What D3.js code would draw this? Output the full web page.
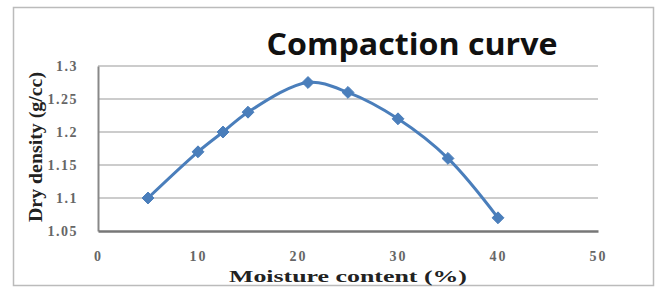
<!DOCTYPE html>
<html><head><meta charset="utf-8">
<script src="https://cdnjs.cloudflare.com/ajax/libs/d3/7.8.5/d3.min.js"></script>
<style>body{margin:0;background:#fff}</style></head>
<body><svg id="c" width="658" height="287"></svg>
<script>
const moisture = [5, 10, 12.5, 15, 21, 25, 30, 35, 40];
const density = [1.1, 1.17, 1.2, 1.23, 1.275, 1.26, 1.22, 1.16, 1.07];
const xTicks = [0, 10, 20, 30, 40, 50];
const yTicks = [1.05, 1.1, 1.15, 1.2, 1.25, 1.3];
const title = "Compaction curve";
const xTitle = "Moisture content (%)";
const yTitle = "Dry density (g/cc)";

const svg = d3.select("#c");
svg.append("rect").attr("x",13.5).attr("y",7.5).attr("width",640).attr("height",278)
  .attr("fill","#fff").attr("stroke","#bbb").attr("stroke-width",1.5);

const x = d3.scaleLinear().domain([0,50]).range([98,598]);
const y = d3.scaleLinear().domain([1.05,1.3]).range([231,66]);

// gridlines
svg.append("g").selectAll("line").data(yTicks.slice(1)).join("line")
  .attr("x1",x(0)).attr("x2",x(50)).attr("y1",d=>y(d)).attr("y2",d=>y(d))
  .attr("stroke","#999").attr("stroke-width",1.2);

// axes
const yAxis = svg.append("g").attr("transform",`translate(${x(0)},0)`)
  .call(d3.axisLeft(y).tickValues(yTicks).tickSize(0).tickPadding(20).tickFormat(d3.format("")));
yAxis.select(".domain").attr("stroke","#888").attr("stroke-width",2);
yAxis.selectAll("text").attr("font-family","Liberation Serif").attr("font-weight","bold")
  .attr("font-size",14).attr("letter-spacing",1.5).attr("fill","#666");

const xAxis = svg.append("g").attr("transform",`translate(0,${y(1.05)})`)
  .call(d3.axisBottom(x).tickValues(xTicks).tickSize(0).tickPadding(20));
xAxis.select(".domain").attr("stroke","#777").attr("stroke-width",2.5);
xAxis.selectAll("text").attr("font-family","Liberation Serif").attr("font-weight","bold")
  .attr("font-size",14).attr("letter-spacing",2).attr("fill","#666");

// line
const pts = moisture.map((m,i)=>[m,density[i]]);
svg.append("path").datum(pts)
  .attr("d", d3.line().x(d=>x(d[0])).y(d=>y(d[1])).curve(d3.curveCatmullRom.alpha(0.5)))
  .attr("fill","none").attr("stroke","#4a7ebb").attr("stroke-width",3);
svg.append("g").selectAll("path").data(pts).join("path")
  .attr("transform",d=>`translate(${x(d[0])},${y(d[1])})`)
  .attr("d", d3.symbol(d3.symbolDiamond2 || d3.symbolDiamond, 90))
  .attr("fill","#4a7ebb").attr("stroke","#4a7ebb");

// titles
svg.append("text").attr("x",412).attr("y",55).attr("text-anchor","middle")
  .attr("font-family","Open Sans").attr("font-weight","bold").attr("font-size",30)
  .attr("textLength",291).attr("lengthAdjust","spacingAndGlyphs").attr("fill","#111").text(title);
svg.append("text").attr("x",348).attr("y",282).attr("text-anchor","middle")
  .attr("font-family","Liberation Serif").attr("font-weight","bold").attr("font-size",17)
  .attr("textLength",238).attr("lengthAdjust","spacingAndGlyphs").attr("fill","#222").text(xTitle);
svg.append("text").attr("transform","translate(42,147) rotate(-90)").attr("text-anchor","middle")
  .attr("font-family","Liberation Serif").attr("font-weight","bold").attr("font-size",18)
  .attr("textLength",150).attr("lengthAdjust","spacingAndGlyphs").attr("fill","#222").text(yTitle);
</script></body></html>
